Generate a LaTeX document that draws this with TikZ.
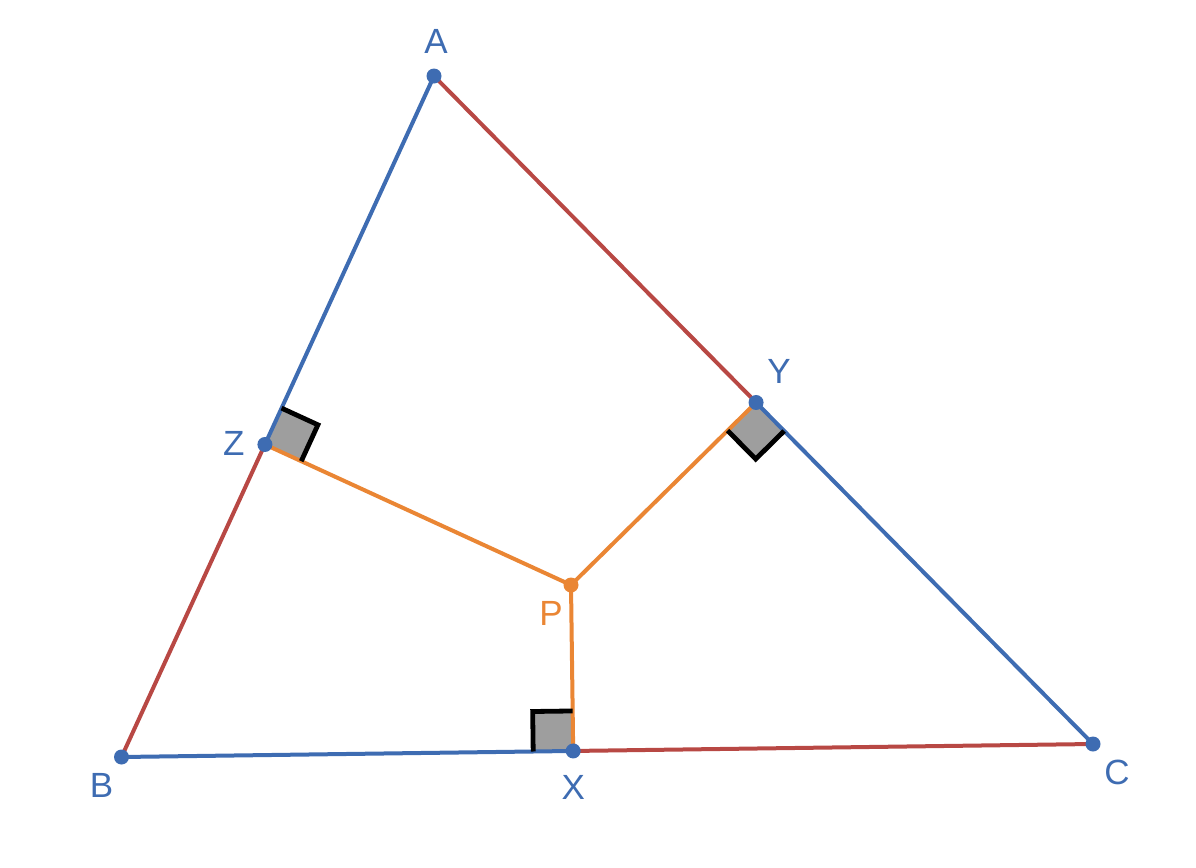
\documentclass[tikz,border=0pt]{standalone}
\usepackage{fontspec}
\setmainfont{Liberation Sans}
\usetikzlibrary{calc,positioning}
\definecolor{ptblue}{RGB}{62,108,178}
\definecolor{sidered}{RGB}{184,72,68}
\definecolor{perporange}{RGB}{234,134,52}
\definecolor{markgray}{RGB}{158,158,158}
\def\sq{20pt}
\def\rmark#1#2#3{%
	\coordinate (#1u) at ($(#1)!\sq!(#2)$);
	\coordinate (#1v) at ($(#1)!\sq!(#3)$);
	\coordinate (#1w) at ($(#1u)+(#1v)-(#1)$);
}

\begin{document}
\begin{tikzpicture}[dot/.style={circle, fill=#1, inner sep=0pt, minimum size=7.5pt}, dot/.default=ptblue, lbl/.style={text=#1, inner sep=0pt, font=\fontsize{17.5}{21}\selectfont}, lbl/.default=ptblue, side/.style={line width=2pt}, corner/.style={line width=2.4pt, black}]
	\useasboundingbox (0pt, 0pt) rectangle (598pt, -434pt);
	\coordinate (A) at (217.0pt, -38.0pt);
	\coordinate (B) at (60.75pt, -378.5pt);
	\coordinate (C) at (546.5pt, -372.0pt);
	\coordinate (P) at (285.5pt, -292.5pt);
	\coordinate (X) at ($(B)!(P)!(C)$);
	\coordinate (Y) at ($(C)!(P)!(A)$);
	\coordinate (Z) at ($(A)!(P)!(B)$);
	\rmark{X}{B}{P}
	\rmark{Y}{C}{P}
	\rmark{Z}{A}{P}
	\fill[markgray] (X) -- (Xu) -- (Xw) -- (Xv) -- cycle;
	\fill[markgray] (Y) -- (Yu) -- (Yw) -- (Yv) -- cycle;
	\fill[markgray] (Z) -- (Zu) -- (Zw) -- (Zv) -- cycle;
	\draw[side, ptblue] (A) -- (Z);
	\draw[side, sidered] (Z) -- (B);
	\draw[side, ptblue] (B) -- (X);
	\draw[side, sidered] (X) -- (C);
	\draw[side, ptblue] (C) -- (Y);
	\draw[side, sidered] (Y) -- (A);
	\draw[side, perporange] (P) -- (X);
	\draw[side, perporange] (P) -- (Y);
	\draw[side, perporange] (P) -- (Z);
	\draw[corner] (Xu) -- (Xw) -- (Xv);
	\draw[corner] (Yu) -- (Yw) -- (Yv);
	\draw[corner] (Zu) -- (Zw) -- (Zv);
	\node[dot] (dA) at (A) {};
	\node[dot] (dB) at (B) {};
	\node[dot] (dC) at (C) {};
	\node[dot] (dX) at (X) {};
	\node[dot] (dY) at (Y) {};
	\node[dot] (dZ) at (Z) {};
	\node[dot=perporange] (dP) at (P) {};
	\node[lbl] (lA) at ($(A)+(1pt,17.5pt)$) {A};
	\node[lbl] (lB) at ($(B)+(-10pt,-14pt)$) {B};
	\node[lbl] (lC) at ($(C)+(12pt,-14pt)$) {C};
	\node[lbl] (lX) at ($(X)+(0pt,-18pt)$) {X};
	\node[lbl] (lY) at ($(Y)+(11.5pt,15.5pt)$) {Y};
	\node[lbl] (lZ) at ($(Z)+(-15.5pt,0.5pt)$) {Z};
	\node[lbl=perporange] (lP) at ($(P)+(-10pt,-14pt)$) {P};
\end{tikzpicture}
\end{document}
